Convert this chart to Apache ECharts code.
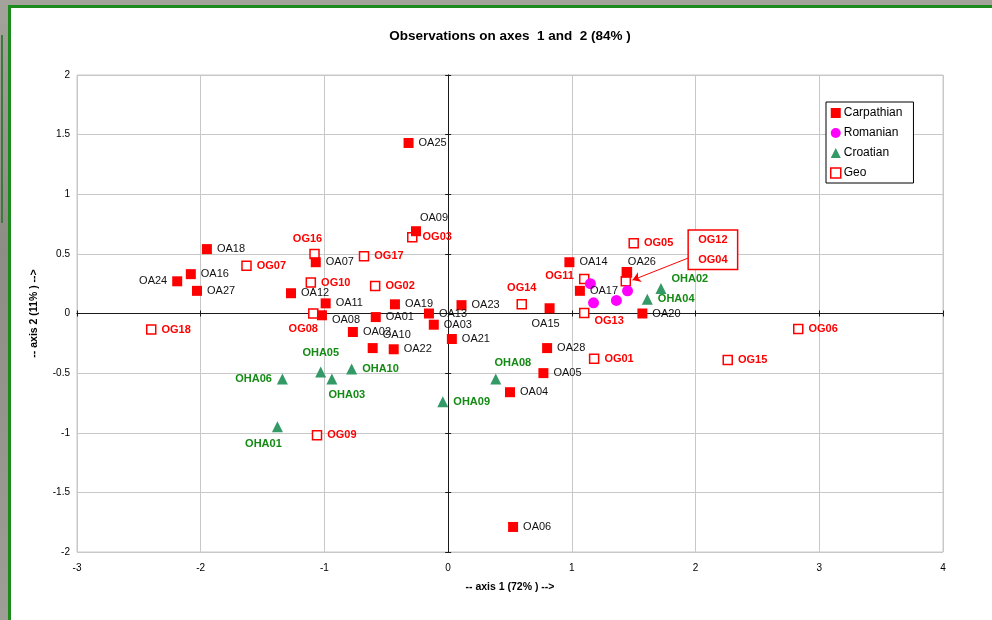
<!DOCTYPE html>
<html>
<head>
<meta charset="utf-8">
<title>Observations on axes 1 and 2</title>
<script src="https://cdn.jsdelivr.net/npm/echarts@6/dist/echarts.min.js"></script>
<style>
  html, body { margin: 0; padding: 0; width: 992px; height: 620px; overflow: hidden; }
  body { background: linear-gradient(180deg, #a3a39b 0%, #8d8d85 40%, #9e9e96 100%); position: relative; font-family: "Liberation Sans", Arial, sans-serif; }
  #edge { position: absolute; left: 1px; top: 35px; width: 2px; height: 188px; background: #3d7a3d; }
  #panel { position: absolute; left: 8px; top: 5px; width: 1000px; height: 640px; background: #ffffff;
           border-top: 3px solid #1c8a1c; border-left: 3px solid #1c8a1c; }
  #chart { position: absolute; left: 0; top: 0; width: 992px; height: 620px; }
</style>
</head>
<body>
<div id="edge"></div>
<div id="panel"></div>
<div id="chart"></div>
<script>
// Factor scores on axes 1 and 2: [name, axis1, axis2]
const carpathian = [
  ['OA01', -0.585, -0.03], ['OA02', -0.77, -0.155], ['OA03', -0.116, -0.094],
  ['OA04', 0.50, -0.66], ['OA05', 0.77, -0.50], ['OA06', 0.525, -1.79],
  ['OA07', -1.07, 0.43], ['OA08', -1.02, -0.015], ['OA09', -0.26, 0.69],
  ['OA10', -0.61, -0.29], ['OA11', -0.99, 0.085], ['OA12', -1.27, 0.17],
  ['OA13', -0.155, 0.0], ['OA14', 0.98, 0.43], ['OA15', 0.82, 0.044],
  ['OA16', -2.08, 0.33], ['OA17', 1.065, 0.19], ['OA18', -1.95, 0.54],
  ['OA19', -0.43, 0.077], ['OA20', 1.57, 0.0], ['OA21', 0.03, -0.214],
  ['OA22', -0.44, -0.30], ['OA23', 0.108, 0.07], ['OA24', -2.19, 0.27],
  ['OA25', -0.32, 1.43], ['OA26', 1.445, 0.345], ['OA27', -2.03, 0.19],
  ['OA28', 0.80, -0.29]
];
const romanian = [
  [1.15, 0.25], [1.175, 0.09], [1.36, 0.11], [1.45, 0.19]
];
const croatian = [
  ['OHA01', -1.38, -0.95], ['OHA02', 1.72, 0.21], ['OHA03', -0.94, -0.55],
  ['OHA04', 1.61, 0.12], ['OHA05', -1.03, -0.49], ['OHA06', -1.34, -0.55],
  ['OHA08', 0.385, -0.55], ['OHA09', -0.043, -0.74], ['OHA10', -0.78, -0.465]
];
const geo = [
  ['OG01', 1.18, -0.38], ['OG02', -0.59, 0.23], ['OG03', -0.29, 0.64],
  ['OG04', 1.436, 0.27], ['OG05', 1.50, 0.59], ['OG06', 2.83, -0.13],
  ['OG07', -1.63, 0.40], ['OG08', -1.09, 0.0], ['OG09', -1.06, -1.02],
  ['OG10', -1.11, 0.26], ['OG11', 1.10, 0.29], ['OG12', 1.445, 0.345],
  ['OG13', 1.10, 0.004], ['OG14', 0.595, 0.077], ['OG15', 2.26, -0.39],
  ['OG16', -1.08, 0.50], ['OG17', -0.68, 0.48], ['OG18', -2.40, -0.135]
];
// Points whose names are written in the callout box instead of beside the mark
const calloutNames = ['OG12', 'OG04'];

// Axis ranges and tick steps
const xRange = [-3, 4], xStep = 1;
const yRange = [-2, 2], yStep = 0.5;

// Label placement for crowded points: [position, dx, dy]
const labelPlacement = {
  OA09: ['top', 18, 2], OA24: ['left', 0, 0], OA08: ['right', 0, 5],
  OA10: ['right', 0, -13], OA15: ['bottom', -4, 0], OA26: ['top', 15, 5],
  OG16: ['top', -7, 1], OG08: ['bottom', -10, 0], OG11: ['left', 0, -3],
  OG13: ['right', 0, 8], OG14: ['top', 0, -1], OHA02: ['right', 0, -9],
  OHA05: ['top', 0, -3], OHA06: ['left', 0, 0], OHA08: ['top', 17, 0],
  OHA03: ['bottom', 15, 0], OHA01: ['bottom', -14, 1]
};

// Callout box and arrow, in data coordinates
const calloutBox = [[1.94, 0.70], [2.34, 0.37]];
const calloutArrow = [[1.94, 0.465], [1.49, 0.28]];

const FONT = '"Liberation Sans", Arial, sans-serif';

function points(rows) {
  return rows.map(function (r) {
    const item = { name: r[0], value: [r[1], r[2]] };
    const p = labelPlacement[r[0]];
    if (calloutNames.indexOf(r[0]) >= 0) {
      item.label = { show: false };
    } else if (p) {
      item.label = { position: p[0], offset: [p[1], p[2]] };
    }
    return item;
  });
}

function zeroAxis(isX, inside) {
  return {
    type: 'value', min: isX ? xRange[0] : yRange[0], max: isX ? xRange[1] : yRange[1],
    interval: isX ? xStep : yStep,
    position: isX ? 'bottom' : 'left',
    axisLine: { show: true, onZero: true, onZeroAxisIndex: 0, lineStyle: { color: '#1a1a1a', width: 1 } },
    axisTick: { show: true, inside: inside, length: 3, lineStyle: { color: '#1a1a1a', width: 1 } },
    axisLabel: { show: false }, splitLine: { show: false }
  };
}

const chart = echarts.init(document.getElementById('chart'), null, { renderer: 'canvas' });
chart.setOption({
  animation: false,
  backgroundColor: 'transparent',
  textStyle: { fontFamily: FONT },
  graphic: [{
    type: 'text', x: 510, y: 36,
    style: { text: 'Observations on axes  1 and  2 (84% )', font: 'bold 13.5px ' + FONT, fill: '#000',
             align: 'center', verticalAlign: 'middle' }
  }],
  grid: { left: 77, right: 49, top: 75, bottom: 68, outerBoundsMode: 'none', containLabel: false,
          show: true, borderColor: '#c8c8c8', borderWidth: 1, backgroundColor: 'transparent' },
  legend: {
    orient: 'vertical', left: 826, top: 102,
    padding: [4, 11, 3, 4], itemGap: 6, itemWidth: 10, itemHeight: 10,
    backgroundColor: '#fff', borderColor: '#000', borderWidth: 1, borderRadius: 0,
    textStyle: { fontFamily: FONT, fontSize: 12, color: '#000', lineHeight: 14, padding: [0, 0, 0, -2] },
    data: [
      { name: 'Carpathian', icon: 'rect' },
      { name: 'Romanian', icon: 'circle' },
      { name: 'Croatian', icon: 'triangle' },
      { name: 'Geo', icon: 'rect', itemStyle: { color: '#fff', borderColor: '#ff0000', borderWidth: 1.5 } }
    ]
  },
  xAxis: [{
    type: 'value', min: xRange[0], max: xRange[1], interval: xStep, position: 'bottom',
    axisLine: { show: false, onZero: false }, axisTick: { show: false },
    axisLabel: { fontSize: 10, color: '#000', margin: 11, fontFamily: FONT },
    splitLine: { show: true, lineStyle: { color: '#c8c8c8', width: 1 } },
    name: '-- axis 1 (72% ) -->', nameLocation: 'middle', nameGap: 30,
    nameTextStyle: { fontSize: 10.5, fontWeight: 'bold', color: '#000', fontFamily: FONT }
  }, zeroAxis(true, false), zeroAxis(true, true)],
  yAxis: [{
    type: 'value', min: yRange[0], max: yRange[1], interval: yStep, position: 'left',
    axisLine: { show: false, onZero: false }, axisTick: { show: false },
    axisLabel: { fontSize: 10, color: '#000', margin: 7, fontFamily: FONT },
    splitLine: { show: true, lineStyle: { color: '#c8c8c8', width: 1 } },
    name: '-- axis 2 (11% ) -->', nameLocation: 'middle', nameGap: 37, nameRotate: 90,
    nameTextStyle: { fontSize: 10.5, fontWeight: 'bold', color: '#000', fontFamily: FONT }
  }, zeroAxis(false, false), zeroAxis(false, true)],
  series: [{
    name: 'Geo', type: 'scatter', symbol: 'rect', symbolSize: 9,
    itemStyle: { color: '#fff', borderColor: '#ff0000', borderWidth: 1.5, opacity: 1 },
    label: { show: true, formatter: '{b}', position: 'right', distance: 5,
             fontSize: 11, fontWeight: 'bold', color: '#ff0000', fontFamily: FONT },
    data: points(geo),
    markArea: {
      silent: true,
      itemStyle: { color: '#ffffff', borderColor: '#ff0000', borderWidth: 1.5, opacity: 1 },
      label: { show: true, position: 'inside', formatter: calloutNames.join('\n'),
               color: '#ff0000', fontWeight: 'bold', fontSize: 11, lineHeight: 20, fontFamily: FONT },
      data: [[{ coord: calloutBox[0] }, { coord: calloutBox[1] }]]
    },
    markLine: {
      silent: true, symbol: ['none', 'arrow'], symbolSize: 8,
      lineStyle: { color: '#ff0000', width: 1, type: 'solid' },
      label: { show: false },
      data: [[{ coord: calloutArrow[0] }, { coord: calloutArrow[1] }]]
    }
  }, {
    name: 'Carpathian', type: 'scatter', symbol: 'rect', symbolSize: 10,
    itemStyle: { color: '#ff0000', opacity: 1 },
    label: { show: true, formatter: '{b}', position: 'right', distance: 5,
             fontSize: 11, color: '#111', fontFamily: FONT },
    data: points(carpathian)
  }, {
    name: 'Croatian', type: 'scatter', symbol: 'triangle', symbolSize: 11,
    itemStyle: { color: '#339966', opacity: 1 },
    label: { show: true, formatter: '{b}', position: 'right', distance: 5,
             fontSize: 11, fontWeight: 'bold', color: '#138a13', fontFamily: FONT },
    data: points(croatian)
  }, {
    name: 'Romanian', type: 'scatter', symbol: 'circle', symbolSize: 11,
    itemStyle: { color: '#ff00ff', opacity: 1 },
    label: { show: false },
    data: romanian
  }]
});
</script>
</body>
</html>
